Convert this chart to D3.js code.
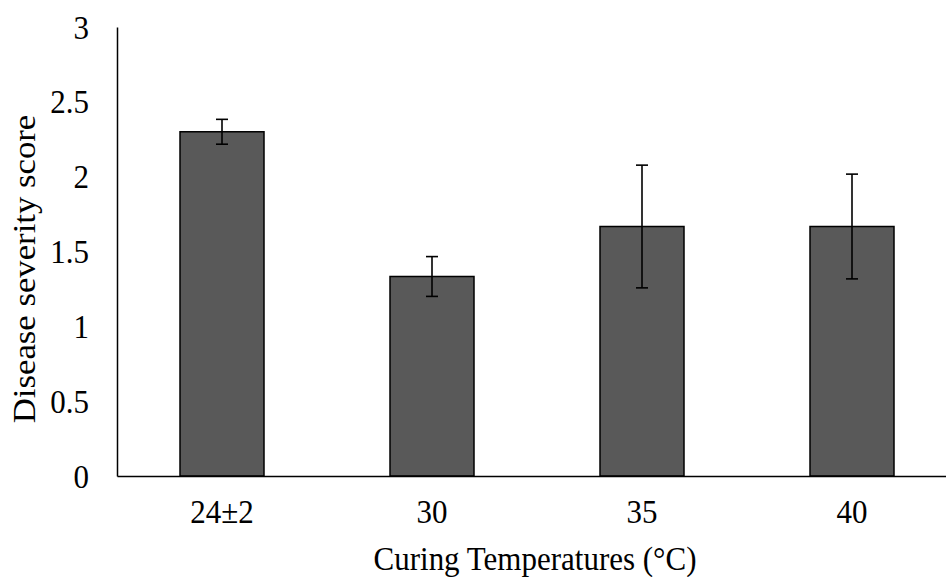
<!DOCTYPE html>
<html>
<head>
<meta charset="utf-8">
<script src="https://cdn.jsdelivr.net/npm/d3@7"></script>
<style>
body { margin: 0; background: #fff; }
text { font-family: "Liberation Serif", "Times New Roman", serif; fill: #000; }
</style>
</head>
<body>
<script>
var categories = ["24±2", "30", "35", "40"];
var severity = [2.30, 1.333, 1.667, 1.667];
var errors = [0.083, 0.133, 0.41, 0.35];
var yTicks = [0, 0.5, 1, 1.5, 2, 2.5, 3];

var width = 946, height = 577;
var stretch = 1.12; // text in the reference is a bit taller than wide
var svg = d3.select("body").append("svg").attr("width", width).attr("height", height);

var x = d3.scaleBand().domain(categories).range([117, 957]).paddingInner(0.6).paddingOuter(0.3);
var y = d3.scaleLinear().domain([0, 3]).range([476, 27]);

// bars
svg.selectAll("rect.bar").data(severity).enter().append("rect")
.attr("class", "bar")
.attr("x", function(d, i){ return x(categories[i]); })
.attr("y", function(d){ return y(d); })
.attr("width", x.bandwidth())
.attr("height", function(d){ return y(0) - y(d); })
.attr("fill", "#595959")
.attr("stroke", "#000")
.attr("stroke-width", 1.5);

// error bars
var eb = svg.selectAll("g.err").data(severity).enter().append("g").attr("class", "err");
eb.append("line")
.attr("x1", function(d, i){ return x(categories[i]) + x.bandwidth()/2; })
.attr("x2", function(d, i){ return x(categories[i]) + x.bandwidth()/2; })
.attr("y1", function(d, i){ return y(d + errors[i]); })
.attr("y2", function(d, i){ return y(d - errors[i]); });
eb.append("line")
.attr("x1", function(d, i){ return x(categories[i]) + x.bandwidth()/2 - 6; })
.attr("x2", function(d, i){ return x(categories[i]) + x.bandwidth()/2 + 6; })
.attr("y1", function(d, i){ return y(d + errors[i]); })
.attr("y2", function(d, i){ return y(d + errors[i]); });
eb.append("line")
.attr("x1", function(d, i){ return x(categories[i]) + x.bandwidth()/2 - 6; })
.attr("x2", function(d, i){ return x(categories[i]) + x.bandwidth()/2 + 6; })
.attr("y1", function(d, i){ return y(d - errors[i]); })
.attr("y2", function(d, i){ return y(d - errors[i]); });
eb.selectAll("line").attr("stroke", "#000").attr("stroke-width", 1.6);

// y axis
var yAxis = svg.append("g").attr("transform", "translate(117,0)")
.call(d3.axisLeft(y).tickValues(yTicks).tickSize(0).tickFormat(function(d){ return d; }));
yAxis.select(".domain").attr("stroke", "#000").attr("stroke-width", 1.5);
yAxis.selectAll(".tick text")
.attr("x", 0).attr("dy", "0.32em")
.attr("text-anchor", "end")
.attr("transform", "translate(-28,0) scale(1," + stretch + ")")
.style("font-size", "31px").style("font-family", "Liberation Serif");

// x axis
var xAxis = svg.append("g").attr("transform", "translate(0,476)")
.call(d3.axisBottom(x).tickSize(0));
xAxis.select(".domain").attr("stroke", "#000").attr("stroke-width", 1.5);
xAxis.selectAll(".tick text")
.attr("y", 0).attr("dy", 0)
.attr("text-anchor", "middle")
.attr("transform", "translate(0,47) scale(1," + stretch + ")")
.style("font-size", "31px").style("font-family", "Liberation Serif");

svg.append("text")
.attr("transform", "translate(535,570) scale(1," + stretch + ")")
.attr("text-anchor", "middle")
.attr("font-size", 31)
.text("Curing Temperatures (°C)");

svg.append("text")
.attr("transform", "translate(35,269) scale(1," + stretch + ") rotate(-90)")
.attr("text-anchor", "middle")
.attr("font-size", 31)
.text("Disease severity score");
</script>
</body>
</html>
